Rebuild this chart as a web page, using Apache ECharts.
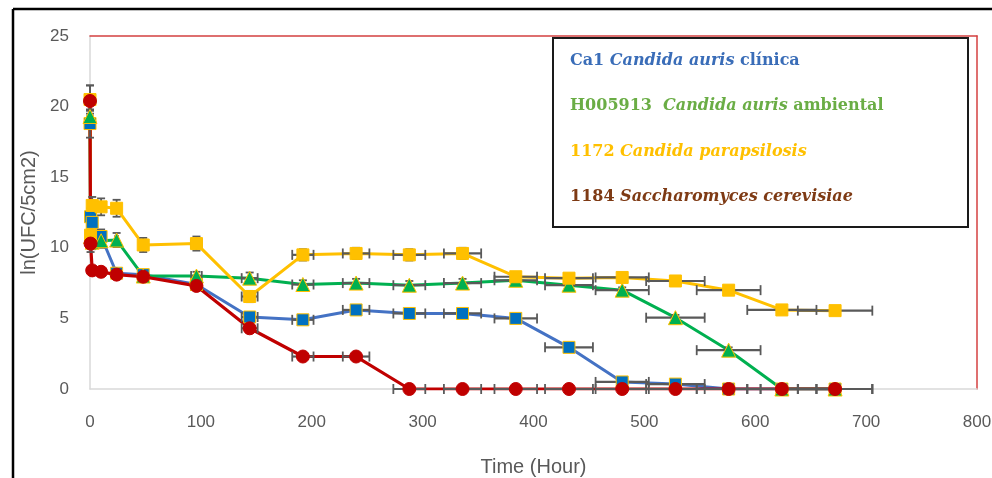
<!DOCTYPE html>
<html>
<head>
<meta charset="utf-8">
<script src="https://cdn.jsdelivr.net/npm/echarts@6/dist/echarts.min.js"></script>
<style>
html,body{margin:0;padding:0;background:#fff;}
#c{width:992px;height:478px;}
</style>
</head>
<body>
<div id="c"></div>
<script>
// ---- data ----
var times = [0, 0.5, 2, 10, 24, 48, 96, 144, 192, 240, 288, 336, 384, 432, 480, 528, 576, 624, 672];
var ca1 = [18.8, 12.2, 11.8, 10.8, 8.2, 8.1, 7.4, 5.1, 4.9, 5.6, 5.35, 5.35, 5.0, 2.95, 0.5, 0.35, 0, 0, 0];
var h005913 = [19.3, 10.8, 10.4, 10.5, 10.55, 8.0, 8.0, 7.85, 7.4, 7.5, 7.35, 7.5, 7.7, 7.35, 7.0, 5.05, 2.75, 0, 0];
var p1172 = [20.5, 10.9, 13.0, 12.9, 12.8, 10.2, 10.3, 6.55, 9.5, 9.6, 9.5, 9.6, 7.95, 7.85, 7.9, 7.65, 7.0, 5.6, 5.55];
var s1184 = [20.4, 10.3, 8.4, 8.3, 8.1, 7.95, 7.3, 4.3, 2.3, 2.3, 0, 0, 0, 0, 0, 0, 0, 0, 0];
// vertical error (ln units)
var ca1Err = [1.0, 0.6, 0.6, 0.5, 0.3, 0.3, 0.3, 0.3, 0.2, 0.2, 0.2, 0.2, 0.2, 0.2, 0.2, 0.2, 0, 0, 0];
var h005913Err = [0.4, 0.5, 0.5, 0.5, 0.5, 0.3, 0.3, 0.4, 0.3, 0.3, 0.3, 0.3, 0.3, 0.3, 0.2, 0.2, 0.2, 0, 0];
var p1172Err = [1.0, 0.6, 0.6, 0.6, 0.6, 0.5, 0.5, 0.4, 0.4, 0.4, 0.4, 0.4, 0.3, 0.3, 0.3, 0.3, 0.3, 0.2, 0.2];
var s1184Err = [1.1, 0.6, 0.3, 0.3, 0.3, 0.3, 0.3, 0.3, 0.2, 0.2, 0, 0, 0, 0, 0, 0, 0, 0, 0];
// horizontal error (hours)
var timeErr = [0, 0, 0, 0, 1.2, 2.4, 4.8, 7.2, 9.6, 12, 14.4, 16.8, 19.2, 21.6, 24, 26.4, 28.8, 31.2, 33.6];
var xTicks = [0, 100, 200, 300, 400, 500, 600, 700, 800];
var yTicks = [0, 5, 10, 15, 20, 25];
var names = ['Ca1 Candida auris clínica', 'H005913 Candida auris ambiental', '1172 Candida parapsilosis', '1184 Saccharomyces cerevisiae'];

var chart = echarts.init(document.getElementById('c'), null, {renderer: 'canvas'});

function pts(vals) { return times.map(function (t, i) { return [t, vals[i]]; }); }
function errPts(vals, ve) { return times.map(function (t, i) { return [t, vals[i], ve[i], timeErr[i]]; }); }

var labelFont = "'Liberation Sans Narrow','Liberation Sans',sans-serif";

function renderErr(params, api) {
  var x = api.value(0), y = api.value(1), ve = api.value(2), he = api.value(3);
  var c = api.coord([x, y]);
  var st = {stroke: '#595959', lineWidth: 1.8};
  var ch = [];
  if (ve > 0) {
    var top = api.coord([x, y + ve]), bot = api.coord([x, y - ve]);
    ch.push({type: 'line', shape: {x1: c[0], y1: top[1], x2: c[0], y2: bot[1]}, style: st});
    ch.push({type: 'line', shape: {x1: c[0] - 4, y1: top[1], x2: c[0] + 4, y2: top[1]}, style: st});
    ch.push({type: 'line', shape: {x1: c[0] - 4, y1: bot[1], x2: c[0] + 4, y2: bot[1]}, style: st});
  }
  if (he > 0) {
    var l = api.coord([x - he, y]), r = api.coord([x + he, y]);
    ch.push({type: 'line', shape: {x1: l[0], y1: c[1], x2: r[0], y2: c[1]}, style: {stroke: '#595959', lineWidth: 2.2}});
    ch.push({type: 'line', shape: {x1: l[0], y1: c[1] - 5, x2: l[0], y2: c[1] + 5}, style: st});
    ch.push({type: 'line', shape: {x1: r[0], y1: c[1] - 5, x2: r[0], y2: c[1] + 5}, style: st});
  }
  return {type: 'group', children: ch};
}

var defs = [
  {name: names[0], vals: ca1, err: ca1Err, line: '#4472C4', fill: '#0070C0', border: '#FFC000', symbol: 'rect', size: 12, w: 3},
  {name: names[1], vals: h005913, err: h005913Err, line: '#00B050', fill: '#00B050', border: '#FFC000', symbol: 'triangle', size: 14, w: 3},
  {name: names[2], vals: p1172, err: p1172Err, line: '#FFC000', fill: '#FFC000', border: '#FFC000', symbol: 'rect', size: 12, w: 3},
  {name: names[3], vals: s1184, err: s1184Err, line: '#C00000', fill: '#C00000', border: '#C00000', symbol: 'circle', size: 13, w: 3.2}
];

var series = [];
defs.forEach(function (d, k) {
  series.push({
    name: d.name, type: 'line', data: pts(d.vals), symbol: 'none', z: 2 + k * 0.01,
    xAxisIndex: 0, yAxisIndex: 0,
    lineStyle: {color: d.line, width: d.w}, itemStyle: {color: d.line}, animation: false
  });
});
defs.forEach(function (d, k) {
  series.push({
    name: d.name + ' err', type: 'custom', data: errPts(d.vals, d.err), renderItem: renderErr,
    xAxisIndex: 0, yAxisIndex: 0,
    encode: {x: 0, y: 1}, z: 3, animation: false, silent: true
  });
});
defs.forEach(function (d, k) {
  series.push({
    name: d.name + ' pts', type: 'scatter', data: pts(d.vals), symbol: d.symbol, symbolSize: d.size,
    xAxisIndex: 0, yAxisIndex: 0,
    z: 4 + k * 0.01, itemStyle: {color: d.fill, borderColor: d.border, borderWidth: 1, opacity: 1}, animation: false
  });
});

var legendLines = [
  {y: 61, text: '{n|Ca1 }{i|Candida auris}{n| clínica}', color: '#3A6DB8'},
  {y: 106, text: '{n|H005913  }{i|Candida auris}{n| ambiental}', color: '#6AAD45'},
  {y: 152, text: '{n|1172 }{i|Candida parapsilosis}', color: '#FFC000'},
  {y: 197, text: '{n|1184 }{i|Saccharomyces cerevisiae}', color: '#7E3A14'}
];
var serif = "'DejaVu Serif','Liberation Serif',serif";
var graphics = [
  {type: 'line', shape: {x1: 13, y1: 9, x2: 992, y2: 9}, style: {stroke: '#000', lineWidth: 2.5}, z: 100},
  {type: 'line', shape: {x1: 13, y1: 9, x2: 13, y2: 478}, style: {stroke: '#000', lineWidth: 2.5}, z: 100},
  {type: 'rect', shape: {x: 553, y: 38, width: 415, height: 189}, style: {fill: '#fff', stroke: '#1a1a1a', lineWidth: 2}, z: 100}
];
legendLines.forEach(function (l) {
  graphics.push({
    type: 'text', x: 570, y: l.y, z: 101,
    style: {
      text: l.text, verticalAlign: 'middle', align: 'left',
      rich: {
        n: {fontFamily: serif, fontSize: 16, fontWeight: 'bold', fill: l.color, color: l.color},
        i: {fontFamily: serif, fontSize: 16, fontStyle: 'italic', fontWeight: 'bold', fill: l.color, color: l.color}
      }
    }
  });
});

var redEdge = {show: true, onZero: false, lineStyle: {color: '#D44040', width: 1.5}};

chart.setOption({
  animation: false,
  backgroundColor: '#fff',
  grid: {left: 90, top: 36, right: 15, bottom: 89, containLabel: false, outerBoundsMode: 'none'},
  xAxis: [{
    type: 'value', position: 'bottom', min: xTicks[0], max: xTicks[xTicks.length - 1], interval: 100,
    name: 'Time (Hour)', nameLocation: 'middle', nameGap: 68,
    nameTextStyle: {color: '#595959', fontSize: 20, fontFamily: labelFont},
    axisLine: {show: true, onZero: false, lineStyle: {color: '#D9D9D9', width: 1.5}},
    axisTick: {show: false}, splitLine: {show: false},
    axisLabel: {color: '#595959', fontSize: 17, fontFamily: labelFont, margin: 25}
  }, {
    type: 'value', position: 'top', min: xTicks[0], max: xTicks[xTicks.length - 1], interval: 100,
    axisLine: redEdge, axisTick: {show: false}, axisLabel: {show: false}, splitLine: {show: false}
  }],
  yAxis: [{
    type: 'value', position: 'left', min: yTicks[0], max: yTicks[yTicks.length - 1], interval: 5,
    name: 'ln(UFC/5cm2)', nameLocation: 'middle', nameGap: 49,
    nameTextStyle: {color: '#595959', fontSize: 20, fontFamily: labelFont},
    axisLine: {show: true, onZero: false, lineStyle: {color: '#D9D9D9', width: 1.5}},
    axisTick: {show: false}, splitLine: {show: false},
    axisLabel: {color: '#595959', fontSize: 17, fontFamily: labelFont, margin: 21}
  }, {
    type: 'value', position: 'right', min: yTicks[0], max: yTicks[yTicks.length - 1], interval: 5,
    axisLine: redEdge, axisTick: {show: false}, axisLabel: {show: false}, splitLine: {show: false}
  }],
  graphic: graphics,
  series: series
});
</script>
</body>
</html>
